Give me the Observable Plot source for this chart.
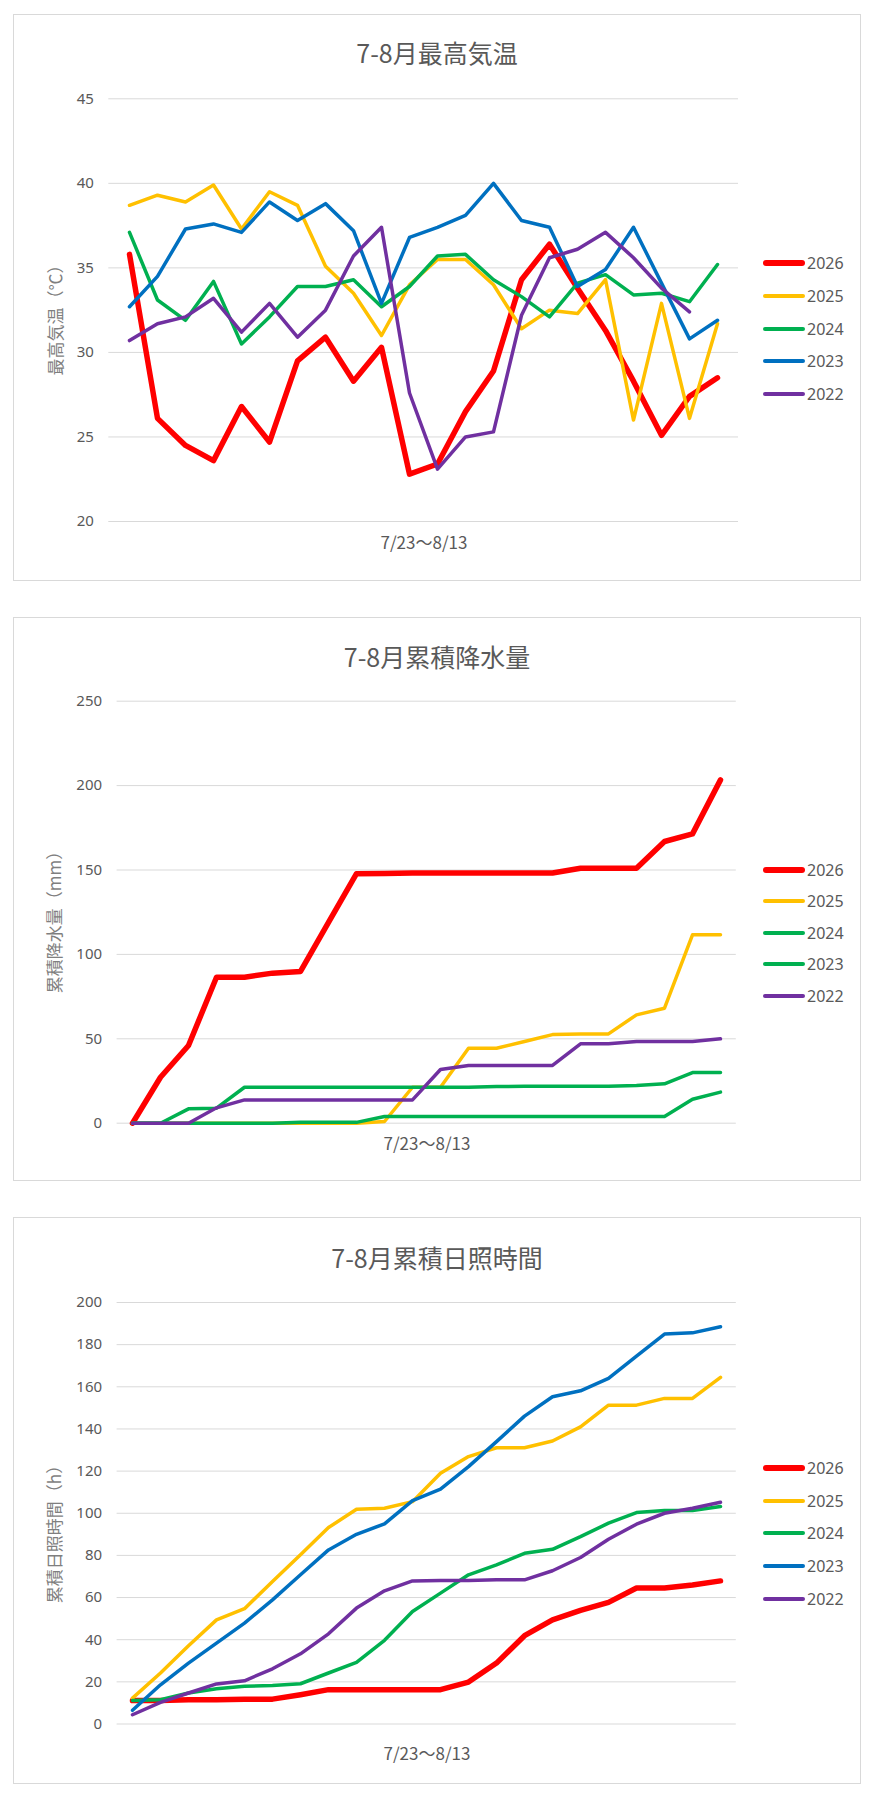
<!DOCTYPE html>
<html>
<head>
<meta charset="utf-8">
<script src="https://cdn.jsdelivr.net/npm/d3@7"></script>
<script src="https://cdn.jsdelivr.net/npm/@observablehq/plot@0.6"></script>
<style>
  html, body { margin: 0; padding: 0; background: #fff; }
  #page { position: relative; width: 875px; height: 1800px; font-family: "Noto Sans", "Noto Sans CJK JP", sans-serif; }
  .panel { position: absolute; box-sizing: border-box; border: 1px solid #d9d9d9; background: #fff; }
  .abs { position: absolute; white-space: nowrap; }
  .title { font-family: "Noto Sans CJK JP", sans-serif; font-weight: 400; font-size: 25px; color: #595959; transform: translate(-50%, -50%); }
  .ylab { font-family: "Noto Sans CJK JP", sans-serif; font-size: 17px; color: #7f7f7f; transform: translate(-50%, -50%) rotate(-90deg); }
  .xlab { font-family: "Noto Sans CJK JP", sans-serif; font-size: 17px; color: #595959; transform: translate(-50%, -50%); }
  .leg { font-size: 16px; color: #595959; transform: translateY(-50%); display: flex; align-items: center; }
  .leg span.sw { display: inline-block; width: 42px; border-radius: 3px; margin-right: 2px; }
  svg { position: absolute; left: 0; }
</style>
</head>
<body>
<div id="page"></div>
<script>
// ---- categories ----
const dates = ["7/23","7/24","7/25","7/26","7/27","7/28","7/29","7/30","7/31","8/1","8/2","8/3","8/4","8/5","8/6","8/7","8/8","8/9","8/10","8/11","8/12","8/13"];
const years = ["2026","2025","2024","2023","2022"];

// ---- 最高気温 (℃) ----
const temp2026 = [35.8,26.1,24.5,23.6,26.8,24.7,29.5,30.9,28.3,30.3,22.8,23.4,26.5,28.9,34.3,36.4,33.8,31.3,28.3,25.1,27.4,28.5];
const temp2025 = [38.7,39.3,38.9,39.9,37.3,39.5,38.7,35.1,33.5,31.0,34.0,35.5,35.5,34.0,31.4,32.5,32.3,34.3,26.0,32.9,26.1,31.7];
const temp2024 = [37.1,33.1,31.9,34.2,30.5,32.1,33.9,33.9,34.3,32.7,33.9,35.7,35.8,34.3,33.3,32.1,34.1,34.6,33.4,33.5,33.0,35.2];
const temp2023 = [32.7,34.5,37.3,37.6,37.1,38.9,37.8,38.8,37.2,32.9,36.8,37.4,38.1,40.0,37.8,37.4,33.9,34.9,37.4,34.1,30.8,31.9];
const temp2022 = [30.7,31.7,32.1,33.2,31.2,32.9,30.9,32.5,35.7,37.4,27.6,23.1,25.0,25.3,32.2,35.6,36.1,37.1,35.6,33.8,32.4];
const tempTicks = [20,25,30,35,40,45];

// ---- 累積降水量 (mm) ----
const rain2026 = [0,27.2,46,86.5,86.5,88.9,89.9,119,147.8,148,148.2,148.2,148.2,148.2,148.2,148.2,151,151,151,166.9,171.4,203.4];
const rain2025 = [0,0,0,0,0,0,0,0,0,1,21.3,21.3,44.4,44.4,48.4,52.5,52.9,52.9,64.2,68.1,111.6,111.6];
const rain2024 = [0,0,8.5,8.9,21.3,21.3,21.3,21.3,21.3,21.3,21.3,21.3,21.3,21.7,21.9,21.9,21.9,21.9,22.3,23.3,30,30];
const rain2023 = [0,0,0,0,0,0,0.5,0.5,0.5,4,4,4,4,4,4,4,4,4,4,4,14.2,18.4];
const rain2022 = [0,0,0,9.1,13.8,13.8,13.8,13.8,13.8,13.8,13.8,31.8,34.2,34.2,34.2,34.2,47,47,48.4,48.4,48.4,50];
const rainTicks = [0,50,100,150,200,250];

// ---- 累積日照時間 (h) ----
const sun2026 = [11.1,11.2,11.5,11.5,11.8,11.8,13.9,16.3,16.3,16.3,16.3,16.3,19.9,28.9,41.9,49.4,53.9,57.7,64.5,64.5,66,67.9];
const sun2025 = [12.3,24.2,37.1,49.4,54.7,67.6,80.3,93.2,101.9,102.4,105.5,119,126.9,131.1,131.1,134.3,141,151.3,151.3,154.5,154.5,164.5];
const sun2024 = [11.2,11.5,14.7,16.7,17.9,18.3,19.1,24.2,29.2,39.7,53.4,62.1,70.8,75.5,81,82.9,88.9,95.3,100.3,101.3,101.3,103.2];
const sun2023 = [6.5,18.6,28.9,38.4,47.9,58.9,70.8,82.6,90,95,106,111.4,122.1,134,146.1,155.3,158.1,164,174.6,185,185.6,188.5];
const sun2022 = [4.4,10.3,14.7,19,20.5,26.2,33.3,42.8,55,63.2,67.9,68.1,68.1,68.4,68.4,72.7,79,87.7,94.8,100,102.4,105.2];
const sunTicks = [0,20,40,60,80,100,120,140,160,180,200];

// ---- colours ----
const colorsA = ["#FF0000","#FFC000","#00B050","#0070C0","#7030A0"];
const colorsB = ["#FF0000","#FFC000","#00B050","#00B050","#7030A0"];
const widths = [5.5,3.5,3.5,3.5,3.5];

const page = document.getElementById("page");
function el(cls, text, left, top, extra) {
  const d = document.createElement("div");
  d.className = "abs " + cls;
  if (text != null) d.textContent = text;
  d.style.left = left + "px";
  d.style.top = top + "px";
  if (extra) Object.assign(d.style, extra);
  page.appendChild(d);
  return d;
}

function chart(cfg) {
  const p = el("panel", null, 13, cfg.panelTop, {width: (861 - 13) + "px", height: (cfg.panelBottom - cfg.panelTop) + "px"});
  p.className = "panel";
  el("title", cfg.title, 437, cfg.titleY);
  el("ylab", cfg.ylabel, cfg.ylabX, cfg.ylabY);
  el("xlab", "7/23〜8/13", cfg.xlabX, cfg.xlabY);

  const marks = [
    Plot.gridY(cfg.ticks, {stroke: "#d9d9d9", strokeOpacity: 1, strokeWidth: 1}),
    Plot.axisY({ticks: cfg.ticks, tickSize: 0, tickPadding: cfg.tickPadding, fontSize: 15, fill: "#595959", label: null})
  ];
  cfg.series.forEach((vals, i) => {
    const rows = vals.map((v, j) => ({date: dates[j], value: v}));
    marks.push(Plot.lineY(rows, {x: "date", y: "value", stroke: cfg.colors[i], strokeWidth: widths[i], strokeLinejoin: "round", strokeLinecap: "round"}));
  });
  const svg = Plot.plot({
    width: 875,
    height: cfg.height,
    marginTop: cfg.marginTop,
    marginBottom: cfg.marginBottom,
    marginLeft: cfg.marginLeft,
    marginRight: cfg.marginRight,
    style: {background: "transparent", overflow: "visible", fontFamily: "'Noto Sans', 'Noto Sans CJK JP', sans-serif"},
    x: {type: "point", domain: dates, padding: 0.5, axis: null},
    y: {domain: cfg.domain, axis: null},
    marks
  });
  svg.style.top = cfg.svgTop + "px";
  svg.style.position = "absolute";
  page.appendChild(svg);

  years.forEach((yr, i) => {
    const d = el("leg", null, 763, cfg.legTop + i * cfg.legStep);
    const sw = document.createElement("span");
    sw.className = "sw";
    sw.style.height = (i === 0 ? 6 : 4) + "px";
    sw.style.background = cfg.colors[i];
    d.appendChild(sw);
    d.appendChild(document.createTextNode(yr));
  });
}

chart({
  title: "7-8月最高気温", ylabel: "最高気温（℃）",
  panelTop: 14, panelBottom: 581, titleY: 52,
  ylabX: 54, ylabY: 316, xlabX: 424, xlabY: 541,
  svgTop: 0, height: 581, marginTop: 98.3, marginBottom: 60, marginLeft: 108.3, marginRight: 137,
  domain: [20, 45], ticks: tempTicks, tickPadding: 15,
  series: [temp2026, temp2025, temp2024, temp2023, temp2022], colors: colorsA,
  legTop: 263.3, legStep: 32.7
});

chart({
  title: "7-8月累積降水量", ylabel: "累積降水量（mm）",
  panelTop: 617, panelBottom: 1181, titleY: 656,
  ylabX: 53, ylabY: 918, xlabX: 427, xlabY: 1142,
  svgTop: 617, height: 564, marginTop: 83.7, marginBottom: 58.3, marginLeft: 116.6, marginRight: 139.2,
  domain: [0, 250], ticks: rainTicks, tickPadding: 15,
  series: [rain2026, rain2025, rain2024, rain2023, rain2022], colors: colorsB,
  legTop: 869.5, legStep: 31.6
});

chart({
  title: "7-8月累積日照時間", ylabel: "累積日照時間（h）",
  panelTop: 1217, panelBottom: 1784, titleY: 1257,
  ylabX: 53, ylabY: 1530, xlabX: 427, xlabY: 1752,
  svgTop: 1217, height: 567, marginTop: 85, marginBottom: 60.5, marginLeft: 116.6, marginRight: 139.2,
  domain: [0, 200], ticks: sunTicks, tickPadding: 15,
  series: [sun2026, sun2025, sun2024, sun2023, sun2022], colors: colorsA,
  legTop: 1468, legStep: 32.7
});
</script>
</body>
</html>
